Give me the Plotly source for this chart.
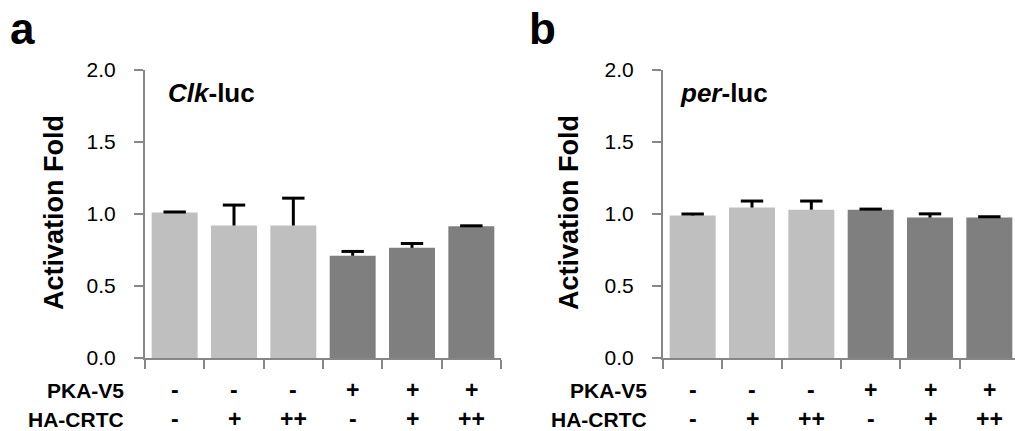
import plotly.graph_objects as go

# ---- data ----
conditions = ["1", "2", "3", "4", "5", "6"]
pka_v5 = ["-", "-", "-", "+", "+", "+"]
ha_crtc = ["-", "+", "++", "-", "+", "++"]
clk_values = [1.01, 0.92, 0.92, 0.71, 0.765, 0.915]
clk_errors = [0.004, 0.142, 0.19, 0.03, 0.03, 0.003]
per_values = [0.99, 1.045, 1.03, 1.03, 0.975, 0.975]
per_errors = [0.01, 0.045, 0.06, 0.004, 0.026, 0.006]
bar_colors = ["#BFBFBF", "#BFBFBF", "#BFBFBF", "#7F7F7F", "#7F7F7F", "#7F7F7F"]
y_ticks = [0.0, 0.5, 1.0, 1.5, 2.0]

FONT = "Liberation Sans, Arial, sans-serif"
AXIS_COL = "#878787"

W, H = 1015, 431
ML, MR, MT, MB = 145, 0, 70, 73
PW = W - ML - MR
PH = H - MT - MB


def px_x(p):
    return (p - ML) / PW


def px_y(p):
    return (H - MB - p) / PH


xpos = list(range(len(conditions)))

fig = go.Figure()
for vals, errs, xa, ya in [(clk_values, clk_errors, "x", "y"),
                           (per_values, per_errors, "x2", "y2")]:
    fig.add_trace(go.Bar(
        x=xpos, y=vals, marker=dict(color=bar_colors, line=dict(width=0)),
        error_y=dict(type="data", array=errs, arrayminus=[0] * len(errs),
                     symmetric=False, color="black", thickness=3, width=0),
        xaxis=xa, yaxis=ya, showlegend=False, hoverinfo="skip"))
    # caps of the error bars (top only)
    fig.add_trace(go.Scatter(
        x=xpos, y=[v + e for v, e in zip(vals, errs)], mode="markers",
        marker=dict(symbol="line-ew", size=16, color="black",
                    line=dict(color="black", width=3)),
        xaxis=xa, yaxis=ya, showlegend=False, hoverinfo="skip", cliponaxis=True))

xcommon = dict(tickmode="array", tickvals=[i - 0.5 for i in range(len(conditions) + 1)],
               showticklabels=False, ticks="outside", ticklen=9, tickwidth=2,
               tickcolor=AXIS_COL, showline=True, linecolor=AXIS_COL, linewidth=2,
               showgrid=False, zeroline=False, fixedrange=True)
ycommon = dict(range=[0, 2.0], tickmode="array", tickvals=y_ticks,
               ticktext=[f"{v:.1f}" for v in y_ticks],
               ticks="outside", ticklen=9, tickwidth=2, tickcolor=AXIS_COL,
               showline=True, linecolor=AXIS_COL, linewidth=2,
               showgrid=False, zeroline=False, ticklabelstandoff=14,
               tickfont=dict(family=FONT, size=21, color="black"))

a_end = px_x(501)
b_start = px_x(663)
b_range_end = -0.5 + (W - 663) / ((501 - 145) / 6)

fig.update_layout(
    width=W, height=H,
    margin=dict(l=ML, r=MR, t=MT, b=MB),
    paper_bgcolor="white", plot_bgcolor="white",
    bargap=0.225,
    xaxis=dict(domain=[0, a_end], range=[-0.5, 5.5], anchor="y", **xcommon),
    yaxis=dict(domain=[0, 1], anchor="x", **ycommon),
    xaxis2=dict(domain=[b_start, 1], range=[-0.5, b_range_end], anchor="y2", **xcommon),
    yaxis2=dict(domain=[0, 1], anchor="x2", **ycommon),
)

ann = []
# panel letters
ann.append(dict(text="<b>a</b>", xref="paper", yref="paper", x=px_x(8), y=px_y(28),
                xanchor="left", yanchor="middle", showarrow=False,
                font=dict(family=FONT, size=44, color="black")))
ann.append(dict(text="<b>b</b>", xref="paper", yref="paper", x=px_x(527), y=px_y(28),
                xanchor="left", yanchor="middle", showarrow=False,
                font=dict(family=FONT, size=44, color="black")))
# panel titles
ann.append(dict(text="<b><i>Clk</i>-luc</b>", xref="paper", yref="paper", x=px_x(166), y=px_y(93),
                xanchor="left", yanchor="middle", showarrow=False,
                font=dict(family=FONT, size=26, color="black")))
ann.append(dict(text="<b><i>per</i>-luc</b>", xref="paper", yref="paper", x=px_x(678), y=px_y(93),
                xanchor="left", yanchor="middle", showarrow=False,
                font=dict(family=FONT, size=26, color="black")))
# y titles
for xc in (54, 569):
    ann.append(dict(text="<b>Activation Fold</b>", xref="paper", yref="paper",
                    x=px_x(xc), y=px_y(213), textangle=-90,
                    xanchor="center", yanchor="middle", showarrow=False,
                    font=dict(family=FONT, size=27, color="black")))
# row labels
for xr in (126, 649):
    ann.append(dict(text="<b>PKA-V5</b>", xref="paper", yref="paper", x=px_x(xr), y=px_y(390),
                    xanchor="right", yanchor="middle", showarrow=False,
                    font=dict(family=FONT, size=21, color="black")))
    ann.append(dict(text="<b>HA-CRTC</b>", xref="paper", yref="paper", x=px_x(xr), y=px_y(419),
                    xanchor="right", yanchor="middle", showarrow=False,
                    font=dict(family=FONT, size=21, color="black")))
# condition symbols
for xa in ("x", "x2"):
    for i in xpos:
        ann.append(dict(text=f"<b>{pka_v5[i]}</b>", xref=xa, yref="paper", x=i, y=px_y(390),
                        xanchor="center", yanchor="middle", showarrow=False,
                        font=dict(family=FONT, size=23, color="black")))
        ann.append(dict(text=f"<b>{ha_crtc[i]}</b>", xref=xa, yref="paper", x=i, y=px_y(419),
                        xanchor="center", yanchor="middle", showarrow=False,
                        font=dict(family=FONT, size=23, color="black")))
fig.update_layout(annotations=ann)

fig.write_html("out.html", config={"displayModeBar": False, "staticPlot": True},
               post_script="document.body.style.margin='0';document.body.style.padding='0';"
                           "document.documentElement.style.overflow='hidden';")
